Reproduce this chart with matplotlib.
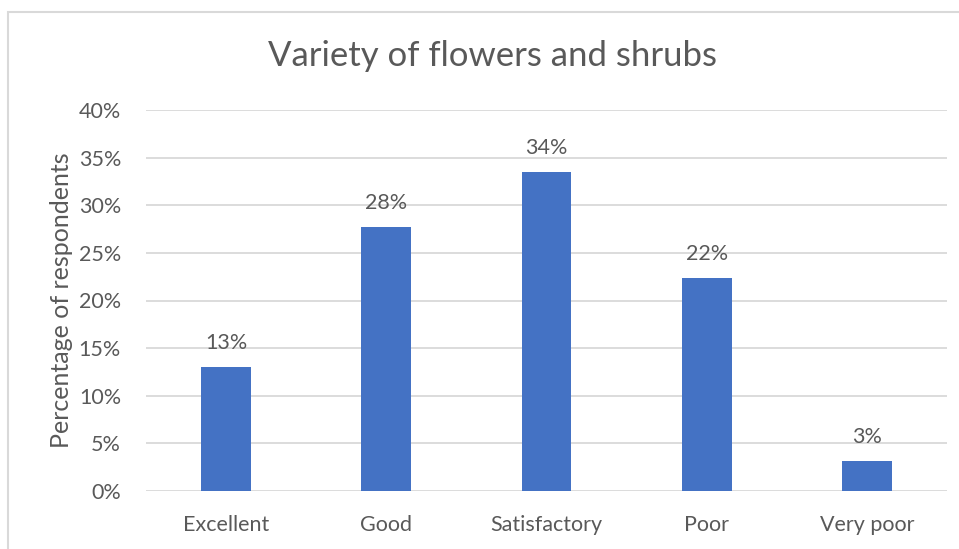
import matplotlib.pyplot as plt
from matplotlib.patches import Rectangle
from matplotlib.ticker import PercentFormatter

categories = ["Excellent", "Good", "Satisfactory", "Poor", "Very poor"]
values = [13.0, 27.7, 33.5, 22.4, 3.2]
labels = ["13%", "28%", "34%", "22%", "3%"]

plt.rcParams['font.family'] = ['Lato', 'DejaVu Sans']
txt = "#595959"

fig = plt.figure(figsize=(9.59, 5.49), dpi=100)
# chart border (only top/left visible in the picture)
fig.patches.append(Rectangle((8/959, -0.1), 1.2, (549-12)/549 + 0.1, transform=fig.transFigure,
                             fill=False, edgecolor="#d9d9d9", linewidth=1.5))

ax = fig.add_axes([146/959, 1-491/549, (947-146)/959, (491-110)/549])
x = range(len(categories))
ax.bar(x, values, width=0.31, color="#4472C4", zorder=3)
for i, v in enumerate(values):
    ax.annotate(labels[i], (i, v), xytext=(0, 10), textcoords="offset points",
                ha="center", va="bottom", fontsize=15.5, color=txt)

ax.set_xlim(-0.5, len(categories) - 0.5)
ax.set_ylim(0, 40)
ax.set_yticks(range(0, 41, 5))
ax.yaxis.set_major_formatter(PercentFormatter(decimals=0))
ax.set_xticks(list(x))
ax.set_xticklabels(categories)
ax.grid(axis="y", color="#d9d9d9", linewidth=1.3, zorder=0)
ax.tick_params(length=0, labelsize=15.5, colors=txt)
ax.tick_params(axis="x", pad=17)
ax.tick_params(axis="y", pad=18)
for s in ax.spines.values():
    s.set_visible(False)
ax.set_ylabel("Percentage of respondents", fontsize=18, color=txt, labelpad=4)

fig.text(492/959, 1-56/549, "Variety of flowers and shrubs", ha="center", va="center",
         fontsize=25, color=txt)

fig.savefig("out.png", dpi=100)
